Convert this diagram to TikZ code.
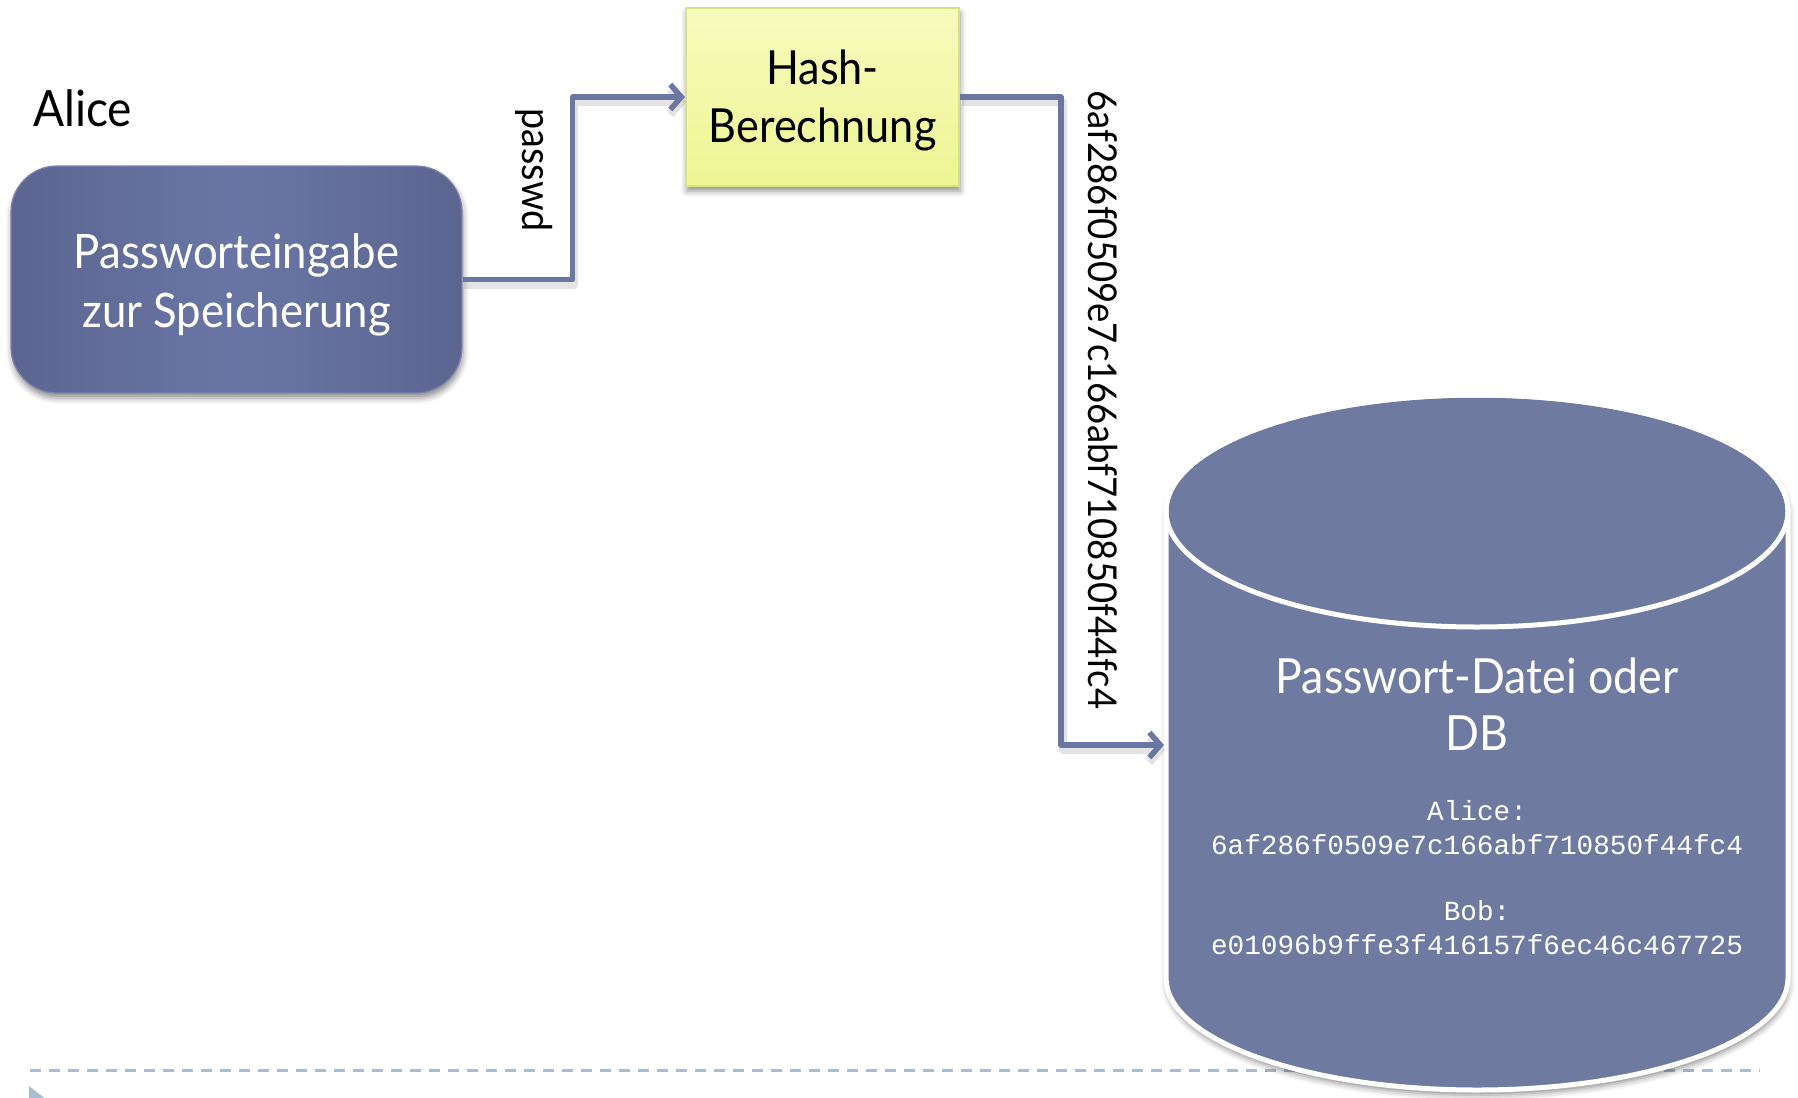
\documentclass[tikz,border=0pt]{standalone}
\usepackage{fontspec}
\setmainfont[FakeStretch=0.92]{Lato}
\setmonofont{Liberation Mono}
\usetikzlibrary{arrows.meta,shadows.blur}

\definecolor{boxedge}{HTML}{5C6590}
\definecolor{boxmid}{HTML}{6976A5}
\definecolor{boxline}{HTML}{7C84AE}
\definecolor{hashlight}{HTML}{F7FBBE}
\definecolor{hashdark}{HTML}{EDF593}
\definecolor{hashline}{HTML}{D6E57E}
\definecolor{connblue}{HTML}{6B77A3}
\definecolor{dbfill}{HTML}{6F7AA1}
\definecolor{sepblue}{HTML}{A9BCD2}

\tikzset{
  softshadow/.style={blur shadow={shadow xshift=1pt, shadow yshift=-5pt,
      shadow blur radius=6pt, shadow opacity=45}},
  pwbox/.style={rounded corners=46pt, minimum width=451pt, minimum height=227pt,
      left color=boxedge, right color=boxedge, middle color=boxmid,
      draw=boxline, line width=1.2pt, softshadow, inner sep=0pt},
  hashbox/.style={minimum width=273pt, minimum height=178pt,
      top color=hashlight, bottom color=hashdark, draw=hashline, line width=2pt,
      softshadow, inner sep=0pt},
  boxtext/.style={align=center, inner sep=0pt},
  conn/.style={draw=connblue, line width=5.5pt, line join=round,
      -{Straight Barb[length=11pt, width=25pt]},
      preaction={draw=black!50, opacity=0.22, line width=8pt, line join=round,
        transform canvas={shift={(1.5pt,-5pt)}}}},
  vlabel/.style={rotate=-90, inner sep=0pt, text=black},
  dbtext/.style={text=white, align=center, inner sep=0pt},
  sepline/.style={draw=sepblue, line width=3pt, dash pattern=on 11pt off 8pt},
}

\begin{document}
\begin{tikzpicture}[x=1pt, y=-1pt]
\useasboundingbox (0,0) rectangle (1798,1097);

% separator line and bullet at the foot of the slide
\coordinate (sepL) at (30,1070);
\coordinate (sepR) at (1760,1070);
\draw[sepline] (sepL) -- (sepR);
\fill[sepblue] (29,1086) -- (47,1100) -- (29,1114) -- cycle;

% database cylinder
\path[softshadow, fill=dbfill, draw=white, line width=5pt]
  (1166,511) -- (1166,978)
  arc[start angle=180, end angle=0, x radius=311, y radius=112]
  -- (1788,511)
  arc[start angle=0, end angle=-180, x radius=311, y radius=116] -- cycle;
\draw[white, line width=5pt] (1477,511) ellipse [x radius=311, y radius=116];
\coordinate (dbin) at (1164,745);

\node[dbtext, font=\fontsize{48.5}{57}\selectfont] (dbtitle) at (1477,704)
  {Passwort-Datei oder\\DB};
\node[dbtext, font=\ttfamily\fontsize{27.7}{34}\selectfont] (dbrows) at (1477,877.5)
  {Alice:\\6af286f0509e7c166abf710850f44fc4\\[32pt]Bob:\\e01096b9ffe3f416157f6ec46c467725};

% actor and boxes
\node[anchor=base west, inner sep=0pt, font=\fontsize{50}{58}\selectfont] (alice)
  at (33,127) {Alice};
\node[pwbox] (pw) at (236.5,279.5) {};
\node[boxtext, text=white, font=\fontsize{47.5}{59}\selectfont, yshift=-5pt]
  (pwtext) at (pw.center) {Passworteingabe\\zur Speicherung};
\node[hashbox] (hash) at (822.5,97) {};
\node[boxtext, text=black, font=\fontsize{47}{58}\selectfont, yshift=-3pt]
  (hashtext) at (hash.center) {Hash-\\Berechnung};

% connectors
\draw[conn] (pw.east) -- ++(110,0) |- (hash.west);
\draw[conn] (hash.east) -- ++(101,0) |- (dbin);

% connector labels
\node[vlabel, font=\fontsize{41}{48}\selectfont] (pwlbl) at (534,170) {passwd};
\node[vlabel, font=\fontsize{39.7}{48}\selectfont] (hashlbl) at (1103,400)
  {6af286f0509e7c166abf710850f44fc4};
\end{tikzpicture}
\end{document}
